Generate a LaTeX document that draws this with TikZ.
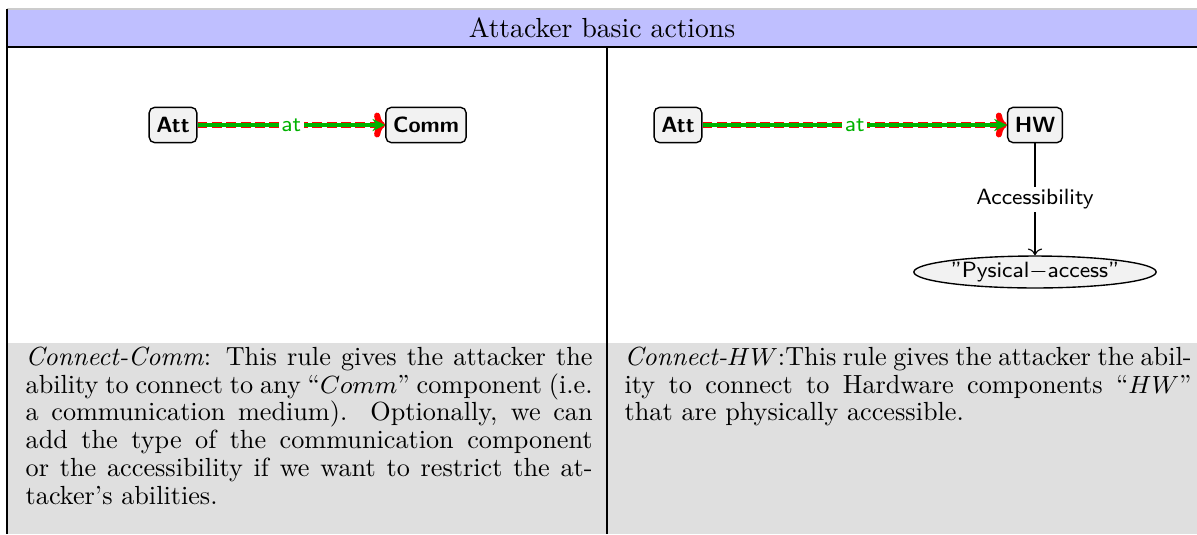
\documentclass[tikz,border=0pt]{standalone}
\usetikzlibrary{shapes.geometric,arrows.meta}

\tikzset{
  comp/.style={draw, rounded corners=2pt, fill=gray!10, font=\footnotesize\sffamily\bfseries,
    inner sep=2.6pt, minimum height=12.8pt},
  prop/.style={draw, ellipse, fill=gray!10, font=\footnotesize\sffamily, inner sep=0.5pt},
  atred/.style={red, line width=2.2pt, dash pattern=on 3.6pt off 1.6pt,
    -{To[round, length=4pt, width=9pt]}},
  atgreen/.style={green!70!black, line width=1.1pt, -{Stealth[length=4.6pt, width=4.4pt]}},
  atlabel/.style={fill=white, inner sep=1pt, text=green!70!black, font=\footnotesize\sffamily},
  rule/.style={anchor=north west, inner sep=0pt, text width=205.4pt, align=justify,
    font=\fontsize{9.5}{10.1}\selectfont},
}

\begin{document}
\begin{tikzpicture}[x=0.3623pt, y=-0.3623pt, line width=0.5pt]
  \useasboundingbox (0,0) rectangle (1197,534);

  % header and caption rows
  \fill[blue!25] (7,9) rectangle (1197,47);
  \fill[gray!25] (7,343) rectangle (1197,534);
  \draw[gray!40] (7,9) -- (1197,9);
  \draw[line width=0.8pt] (7,47) -- (1197,47);
  \draw (7,9) -- (7,534);
  \draw (607,47) -- (607,534);
  \node (title) at (602,28) {Attacker basic actions};

  % Connect-Comm
  \node[comp] (att1) at (173,125) {Att};
  \node[comp] (comm) at (426,125) {Comm};
  \draw[atred] (att1) -- (comm);
  \draw[atgreen] (att1) -- node[atlabel] {at} (comm);

  % Connect-HW
  \node[comp] (att2) at (678,125) {Att};
  \node[comp] (hw) at (1035,125) {HW};
  \node[prop] (phys) at (1035,272) {"Pysical$-$access"};
  \draw[atred] (att2) -- (hw);
  \draw[atgreen] (att2) -- node[atlabel] {at} (hw);
  \draw[line width=0.4pt, ->] (hw) -- node[fill=white, font=\footnotesize\sffamily, inner sep=1pt] {Accessibility} (phys);

  \node[rule] (txt1) at (25,346) {\textit{Connect-Comm}: This rule gives the attacker the ability to connect to any ``$Comm$'' component (i.e. a communication medium). Optionally, we can add the type of the communication component or the accessibility if we want to restrict the attacker's abilities.};
  \node[rule] (txt2) at (624,346) {\textit{Connect-$HW$}:This rule gives the attacker the ability to connect to Hardware components ``$HW$'' that are physically accessible.};
\end{tikzpicture}
\end{document}
